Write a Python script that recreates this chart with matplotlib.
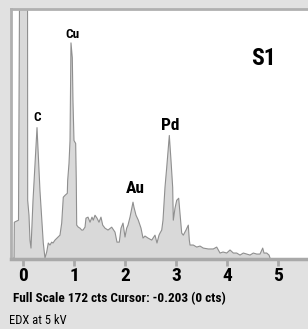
import matplotlib
matplotlib.use("Agg")
import matplotlib.pyplot as plt
from matplotlib import font_manager

# pick a narrow font if one is there
installed = {f.name for f in font_manager.fontManager.ttflist}
narrow = [n for n in ['Liberation Sans Narrow', 'DejaVu Sans Condensed', 'Roboto Condensed',
                      'Open Sans Condensed', 'Roboto', 'DejaVu Sans'] if n in installed]
plt.rcParams['font.family'] = narrow + ['DejaVu Sans']

# EDX spectrum (energy in keV, counts)
energy = [-0.22, -0.176, -0.17, -0.088, -0.059, 0.088, 0.092, 0.118, 0.137, 0.157,
          0.196, 0.275, 0.333, 0.398, 0.431, 0.465, 0.496, 0.529, 0.563, 0.588,
          0.627, 0.667, 0.725, 0.759, 0.790, 0.824, 0.869, 0.876, 0.902, 0.922,
          0.935, 0.941, 0.967, 0.980, 1.0, 1.033, 1.045, 1.053, 1.084, 1.118,
          1.151, 1.176, 1.216, 1.235, 1.275, 1.314, 1.353, 1.378, 1.412, 1.451,
          1.490, 1.529, 1.563, 1.608, 1.667, 1.739, 1.804, 1.843, 1.888, 1.922,
          1.961, 2.0, 2.033, 2.059, 2.098, 2.137, 2.157, 2.176, 2.216, 2.261,
          2.314, 2.353, 2.392, 2.451, 2.524, 2.588, 2.627, 2.667, 2.686, 2.720,
          2.745, 2.784, 2.818, 2.869, 2.902, 2.935, 2.947, 2.980, 3.014, 3.053,
          3.078, 3.112, 3.143, 3.196, 3.241, 3.261, 3.275, 3.339, 3.406, 3.471,
          3.535, 3.633, 3.731, 3.798, 3.863, 3.922, 3.994, 4.059, 4.124, 4.190,
          4.255, 4.320, 4.386, 4.451, 4.516, 4.582, 4.647, 4.700, 4.725, 4.778,
          4.824, 4.843, 4.86]
counts = [0, 0.7, 25.3, 26.7, 250, 250, 40.4, 30, 13, 7.5,
          40, 90.4, 47, 11, 0.7, 4.8, 11, 9.6, 11.6, 11,
          13, 14.4, 16.4, 24.7, 42.5, 43.8, 45.2, 54, 65.8, 81.5,
          127.4, 148.7, 138.4, 109, 81.5, 79.5, 54, 23.3, 21.9, 21.2,
          19.9, 19.9, 21.9, 28.1, 28.8, 25.3, 28.8, 26.7, 30.1, 28.1,
          25.3, 28.8, 23.3, 21.2, 19.9, 21.9, 18.5, 11.6, 11.6, 21.2,
          24.7, 15.1, 21.2, 23.3, 28.8, 35.6, 39.1, 35.6, 30.1, 26.7,
          21.2, 14.4, 15.8, 14.4, 13, 16.4, 11, 16.4, 17.8, 19.9,
          26.7, 49.3, 63, 85, 67.8, 49.3, 26.7, 34.9, 40.4, 41.8,
          31.5, 17.8, 16.4, 19.9, 23.3, 13, 9.6, 9.6, 8.2, 8.9,
          7.5, 6.9, 6.9, 8.2, 4.1, 4.8, 4.1, 6.2, 4.1, 4.1,
          2.7, 4.1, 3.4, 2.7, 4.1, 3.4, 3.4, 7.5, 4.1, 4.1,
          2.7, 0.7, 0]

# peak labels
elements = ["C", "Cu", "Au", "Pd"]
label_x = [0.275, 0.96, 2.196, 2.88]
label_y = [93, 150, 43, 87]
label_size = [9.5, 9.5, 12.5, 12.5]

full_scale = 172
xticks = [0, 1, 2, 3, 4, 5]

fig = plt.figure(figsize=(3.08, 3.29), dpi=100, facecolor='#e1e1e1')
ax = fig.add_axes([11 / 308, 0.2128, 1 - 11 / 308, 0.7598])
ax.set_facecolor('white')

ax.fill_between(energy, counts, 0, color='#d9d9d9', lw=0)
ax.plot(energy, counts, color='#8f8f8f', lw=0.8)

for el, x, y, s in zip(elements, label_x, label_y, label_size):
    ax.text(x, y, el, ha='center', va='bottom', fontsize=s, fontweight='bold')
ax.text(4.706, 137.7, "S1", ha='center', va='center', fontsize=17, fontweight='bold')

ax.set_xlim(-0.235, 5.588)
ax.set_ylim(0, full_scale)
ax.set_xticks(xticks)
ax.set_xticklabels([str(t) for t in xticks], fontsize=14, fontweight='bold')
ax.set_yticks([])
ax.tick_params(axis='x', length=5, width=2, color='#a9a9a9', pad=1)

for side in ['left', 'top']:
    ax.spines[side].set_color('#b0b0b0')
    ax.spines[side].set_linewidth(2)
ax.spines['right'].set_visible(False)
ax.spines['bottom'].set_color('#a9a9a9')
ax.spines['bottom'].set_linewidth(2.5)

fig.text(13 / 308, 1 - 299 / 329, "Full Scale 172 cts Cursor: -0.203 (0 cts)",
         ha='left', va='center', fontsize=9.5, fontweight='bold')
fig.text(9 / 308, 1 - 321 / 329, "EDX at 5 kV", ha='left', va='center', fontsize=9)

fig.savefig("out.png", dpi=100, facecolor=fig.get_facecolor())
